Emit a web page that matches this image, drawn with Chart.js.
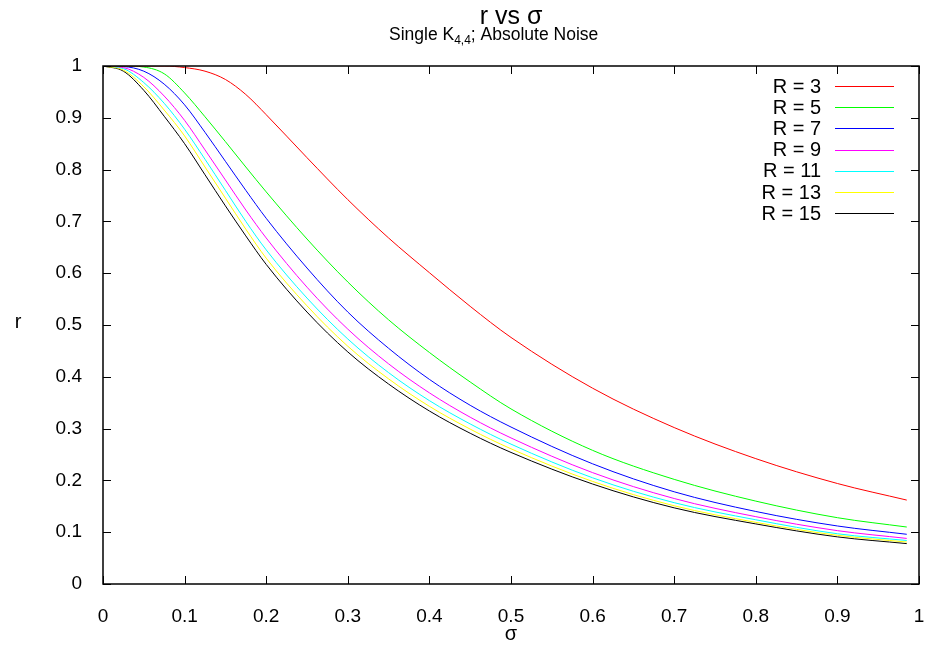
<!DOCTYPE html>
<html>
<head>
<meta charset="utf-8">
<script src="https://cdn.jsdelivr.net/npm/chart.js@4"></script>
<style>
  html, body { margin: 0; background: #fff; }
  #wrap { width: 927px; height: 652px; }
</style>
</head>
<body>
<div id="wrap"><canvas id="chart"></canvas></div>
<script>
// sigma samples and r values
const sigma = [0, 0.025, 0.05, 0.075, 0.1, 0.125, 0.15, 0.175, 0.2, 0.25, 0.3, 0.35, 0.4, 0.45, 0.5, 0.6, 0.7, 0.8, 0.9, 0.985];
const r3  = [1, 1, 1, 1, 0.997, 0.99, 0.974, 0.945, 0.906, 0.823, 0.742, 0.668, 0.601, 0.536, 0.476, 0.378, 0.302, 0.242, 0.194, 0.162];
const r5  = [1, 1, 0.998, 0.985, 0.948, 0.902, 0.854, 0.805, 0.757, 0.666, 0.583, 0.51, 0.447, 0.39, 0.338, 0.258, 0.202, 0.16, 0.128, 0.11];
const r7  = [1, 0.999, 0.99, 0.965, 0.925, 0.872, 0.816, 0.76, 0.706, 0.61, 0.525, 0.455, 0.395, 0.345, 0.303, 0.232, 0.178, 0.14, 0.112, 0.096];
const r9  = [1, 0.997, 0.978, 0.942, 0.895, 0.838, 0.78, 0.722, 0.668, 0.573, 0.492, 0.425, 0.369, 0.322, 0.282, 0.215, 0.165, 0.13, 0.103, 0.088];
const r11 = [1, 0.995, 0.968, 0.928, 0.878, 0.82, 0.76, 0.7, 0.645, 0.552, 0.473, 0.408, 0.354, 0.309, 0.27, 0.205, 0.157, 0.124, 0.097, 0.084];
const r13 = [1, 0.992, 0.96, 0.915, 0.865, 0.805, 0.745, 0.685, 0.629, 0.537, 0.459, 0.396, 0.343, 0.299, 0.261, 0.198, 0.151, 0.119, 0.094, 0.081];
const r15 = [1, 0.99, 0.953, 0.903, 0.85, 0.79, 0.73, 0.672, 0.617, 0.525, 0.448, 0.386, 0.334, 0.291, 0.254, 0.193, 0.147, 0.116, 0.091, 0.078];

const seriesLabels = ['R = 3', 'R = 5', 'R = 7', 'R = 9', 'R = 11', 'R = 13', 'R = 15'];
const seriesValues = [r3, r5, r7, r9, r11, r13, r15];
const seriesColors = ['#ff0000', '#00ff00', '#0000ff', '#ff00ff', '#00ffff', '#ffff00', '#000000'];

const FONT = 'Liberation Sans, Arial, Helvetica, sans-serif';

function fmt(v) {
  return String(+v.toFixed(1));
}

// gnuplot-like frame, inward ticks, key and titles
const decorations = {
  id: 'decorations',
  afterDraw(chart) {
    const ctx = chart.ctx;
    const a = chart.chartArea;
    const xs = chart.scales.x, ys = chart.scales.y;
    ctx.save();
    ctx.strokeStyle = '#000';
    ctx.lineWidth = 1.5;
    ctx.strokeRect(a.left, a.top, a.right - a.left, a.bottom - a.top);

    ctx.lineWidth = 1;
    ctx.beginPath();
    xs.ticks.forEach(t => {
      const px = Math.round(xs.getPixelForValue(t.value)) + 0.5;
      ctx.moveTo(px, a.bottom); ctx.lineTo(px, a.bottom - 8);
      ctx.moveTo(px, a.top); ctx.lineTo(px, a.top + 8);
    });
    ys.ticks.forEach(t => {
      const py = Math.round(ys.getPixelForValue(t.value)) + 0.5;
      ctx.moveTo(a.left, py); ctx.lineTo(a.left + 8, py);
      ctx.moveTo(a.right, py); ctx.lineTo(a.right - 8, py);
    });
    ctx.stroke();

    // key
    ctx.font = '20px ' + FONT;
    ctx.fillStyle = '#000';
    ctx.textAlign = 'right';
    ctx.textBaseline = 'middle';
    seriesLabels.forEach((lab, i) => {
      const y = 86 + i * 21.2;
      ctx.fillText(lab, 821, y + 1);
      ctx.strokeStyle = seriesColors[i];
      ctx.beginPath();
      ctx.moveTo(835, Math.round(y) + 0.5);
      ctx.lineTo(894, Math.round(y) + 0.5);
      ctx.stroke();
    });

    // titles
    ctx.textAlign = 'center';
    ctx.textBaseline = 'alphabetic';
    ctx.font = '25px ' + FONT;
    ctx.fillText('r vs σ', 511, 24);

    ctx.textAlign = 'left';
    let x = 389;
    ctx.font = '17.5px ' + FONT;
    ctx.fillText('Single K', x, 40);
    x += ctx.measureText('Single K').width;
    ctx.font = '12px ' + FONT;
    ctx.fillText('4,4', x, 44);
    x += ctx.measureText('4,4').width;
    ctx.font = '17.5px ' + FONT;
    ctx.fillText('; Absolute Noise', x, 40);

    // axis labels
    ctx.font = '20px ' + FONT;
    ctx.textAlign = 'center';
    ctx.textBaseline = 'middle';
    ctx.fillText('σ', 511, 634);
    ctx.fillText('r', 18, 322);
    ctx.restore();
  }
};

new Chart(document.getElementById('chart'), {
  type: 'line',
  data: {
    datasets: seriesLabels.map((lab, i) => ({
      label: lab,
      data: sigma.map((s, j) => ({ x: s, y: seriesValues[i][j] })),
      borderColor: seriesColors[i],
      borderWidth: 1,
      pointRadius: 0,
      fill: false,
      cubicInterpolationMode: 'monotone'
    }))
  },
  options: {
    responsive: true,
    maintainAspectRatio: false,
    animation: false,
    layout: { padding: { top: 66, right: 8, left: 0, bottom: 0 } },
    plugins: {
      legend: { display: false },
      tooltip: { enabled: false }
    },
    scales: {
      x: {
        type: 'linear',
        min: 0,
        max: 1,
        grid: { display: false },
        border: { display: false },
        ticks: {
          stepSize: 0.1,
          autoSkip: false,
          maxRotation: 0,
          padding: 13,
          color: '#000',
          font: { family: FONT, size: 19 },
          callback: fmt
        },
        afterFit: s => { s.height = 68; s.paddingLeft = 0; s.paddingRight = 0; }
      },
      y: {
        min: 0,
        max: 1,
        grid: { display: false },
        border: { display: false },
        ticks: {
          stepSize: 0.1,
          autoSkip: false,
          padding: 13,
          color: '#000',
          font: { family: FONT, size: 19 },
          callback: fmt
        },
        afterFit: s => { s.width = 103; s.paddingTop = 0; s.paddingBottom = 0; }
      }
    }
  },
  plugins: [decorations]
});
</script>
</body>
</html>
